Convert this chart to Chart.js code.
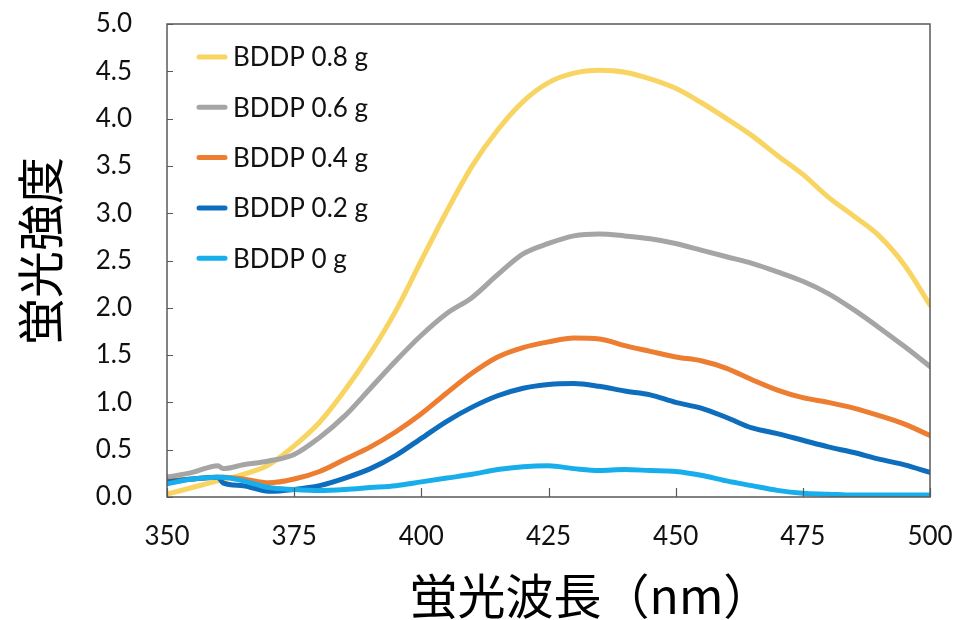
<!DOCTYPE html>
<html>
<head>
<meta charset="utf-8">
<script src="https://cdn.jsdelivr.net/npm/chart.js@4.4.1/dist/chart.umd.min.js"></script>
<style>
  html, body { margin: 0; padding: 0; background: #ffffff; }
  #wrap { width: 958px; height: 620px; }
</style>
</head>
<body>
<div id="wrap"><canvas id="c" width="958" height="620"></canvas></div>
<script>
// Emission wavelength (nm)
const wavelengths = [350, 355, 360, 361, 365, 370, 375, 380, 385, 390, 395, 400, 405, 410, 415, 420,
  425, 430, 435, 440, 445, 450, 455, 460, 465, 470, 475, 480, 485, 490, 495, 500];

// Fluorescence intensity for each BDDP amount
const bddp08 = [0.03, 0.10, 0.17, 0.18, 0.24, 0.34, 0.54, 0.79, 1.13, 1.52, 1.97, 2.50, 3.02, 3.50, 3.88, 4.18,
  4.38, 4.48, 4.51, 4.49, 4.42, 4.32, 4.17, 4.00, 3.82, 3.61, 3.41, 3.17, 2.97, 2.76, 2.45, 2.03];
const bddp06 = [0.21, 0.26, 0.33, 0.30, 0.34, 0.38, 0.45, 0.63, 0.86, 1.15, 1.44, 1.71, 1.94, 2.11, 2.35, 2.57,
  2.68, 2.76, 2.78, 2.76, 2.73, 2.68, 2.61, 2.54, 2.47, 2.38, 2.28, 2.15, 1.98, 1.79, 1.59, 1.38];
const bddp04 = [0.17, 0.19, 0.21, 0.21, 0.19, 0.15, 0.19, 0.27, 0.40, 0.53, 0.69, 0.88, 1.10, 1.31, 1.48, 1.58,
  1.64, 1.68, 1.67, 1.60, 1.54, 1.48, 1.44, 1.36, 1.24, 1.13, 1.05, 1.00, 0.94, 0.86, 0.77, 0.65];
const bddp02 = [0.16, 0.19, 0.21, 0.15, 0.12, 0.06, 0.08, 0.12, 0.20, 0.30, 0.44, 0.62, 0.80, 0.95, 1.07, 1.15,
  1.19, 1.20, 1.17, 1.12, 1.08, 1.00, 0.94, 0.84, 0.73, 0.67, 0.60, 0.53, 0.47, 0.40, 0.34, 0.26];
const bddp00 = [0.14, 0.19, 0.21, 0.21, 0.17, 0.10, 0.08, 0.07, 0.08, 0.10, 0.12, 0.16, 0.20, 0.24, 0.29, 0.32,
  0.33, 0.30, 0.28, 0.29, 0.28, 0.27, 0.23, 0.17, 0.12, 0.07, 0.04, 0.03, 0.02, 0.02, 0.02, 0.02];

const seriesNames = ['BDDP 0.8 g', 'BDDP 0.6 g', 'BDDP 0.4 g', 'BDDP 0.2 g', 'BDDP 0 g'];
const seriesValues = [bddp08, bddp06, bddp04, bddp02, bddp00];
const seriesColors = ['#F8D462', '#A5A5A5', '#ED7D31', '#0E6EBD', '#18AEEB'];

const xTicks = [350, 375, 400, 425, 450, 475, 500];
const yTicks = [0, 0.5, 1, 1.5, 2, 2.5, 3, 3.5, 4, 4.5, 5];

const xTitle = '蛍光波長（nm）';
const yTitle = '蛍光強度';

const TICK_FONT = { family: 'Lato', size: 26 };
const AXIS_COLOR = '#595959';

const datasets = seriesNames.map((name, i) => ({
  label: name,
  data: wavelengths.map((w, k) => ({ x: w, y: seriesValues[i][k] })),
  borderColor: seriesColors[i],
  backgroundColor: seriesColors[i],
  borderWidth: 5,
  pointRadius: 0,
  cubicInterpolationMode: 'monotone',
  borderCapStyle: 'round',
  borderJoinStyle: 'round',
  // later series are painted over earlier ones
  order: seriesNames.length - i
}));

// Frame around the plot, inward tick marks, legend and axis titles
const decorations = {
  id: 'decorations',
  afterDatasetsDraw(chart) {
    const { ctx, chartArea: a, scales } = chart;
    ctx.save();
    ctx.strokeStyle = AXIS_COLOR;
    ctx.lineWidth = 1.5;
    ctx.strokeRect(a.left, a.top, a.right - a.left, a.bottom - a.top);
    ctx.lineWidth = 1.2;
    ctx.beginPath();
    yTicks.forEach(v => {
      const y = Math.round(scales.y.getPixelForValue(v)) + 0.5;
      ctx.moveTo(a.left, y);
      ctx.lineTo(a.left + 6, y);
    });
    xTicks.forEach(v => {
      const x = Math.round(scales.x.getPixelForValue(v)) + 0.5;
      ctx.moveTo(x, a.bottom);
      ctx.lineTo(x, a.bottom - 9);
    });
    ctx.stroke();

    // legend, top-left inside the plot
    ctx.font = '26px Lato';
    ctx.textBaseline = 'middle';
    ctx.textAlign = 'left';
    ctx.lineCap = 'round';
    seriesNames.forEach((name, i) => {
      const y = a.top + 33 + i * 50.3;
      ctx.strokeStyle = seriesColors[i];
      ctx.lineWidth = 5;
      ctx.beginPath();
      ctx.moveTo(a.left + 32, y);
      ctx.lineTo(a.left + 58, y);
      ctx.stroke();
      ctx.fillStyle = '#111111';
      ctx.fillText(name, a.left + 66, y + 1);
    });

    // axis titles
    ctx.fillStyle = '#000000';
    ctx.font = '48px "Noto Sans CJK JP"';
    ctx.textAlign = 'center';
    ctx.fillText(xTitle, a.left + (a.right - a.left) * 0.555, 596);
    ctx.translate(40, a.top + (a.bottom - a.top) * 0.48);
    ctx.rotate(-Math.PI / 2);
    ctx.font = '47px "Noto Sans CJK JP"';
    ctx.fillText(yTitle, 0, 0);
    ctx.restore();
  }
};

new Chart(document.getElementById('c'), {
  type: 'line',
  data: { datasets },
  plugins: [decorations],
  options: {
    responsive: false,
    animation: false,
    devicePixelRatio: 1,
    layout: { padding: { top: 24, right: 28, left: 0, bottom: 0 } },
    plugins: {
      legend: { display: false },
      tooltip: { enabled: false }
    },
    scales: {
      x: {
        type: 'linear',
        min: 350,
        max: 500,
        afterBuildTicks(scale) { scale.ticks = xTicks.map(v => ({ value: v })); },
        afterFit(scale) {
          scale.height = 123;
          scale.paddingLeft = 0;
          scale.paddingRight = 0;
        },
        grid: { drawOnChartArea: false, drawTicks: false },
        border: { display: false },
        ticks: { font: TICK_FONT, color: '#111111', padding: 24, maxRotation: 0 }
      },
      y: {
        type: 'linear',
        min: 0,
        max: 5,
        afterBuildTicks(scale) { scale.ticks = yTicks.map(v => ({ value: v })); },
        afterFit(scale) {
          scale.width = 167;
          scale.paddingTop = 0;
          scale.paddingBottom = 0;
        },
        grid: { drawOnChartArea: false, drawTicks: false },
        border: { display: false },
        ticks: {
          font: TICK_FONT,
          color: '#111111',
          padding: 35,
          callback: v => v.toFixed(1)
        }
      }
    }
  }
});
</script>
</body>
</html>
